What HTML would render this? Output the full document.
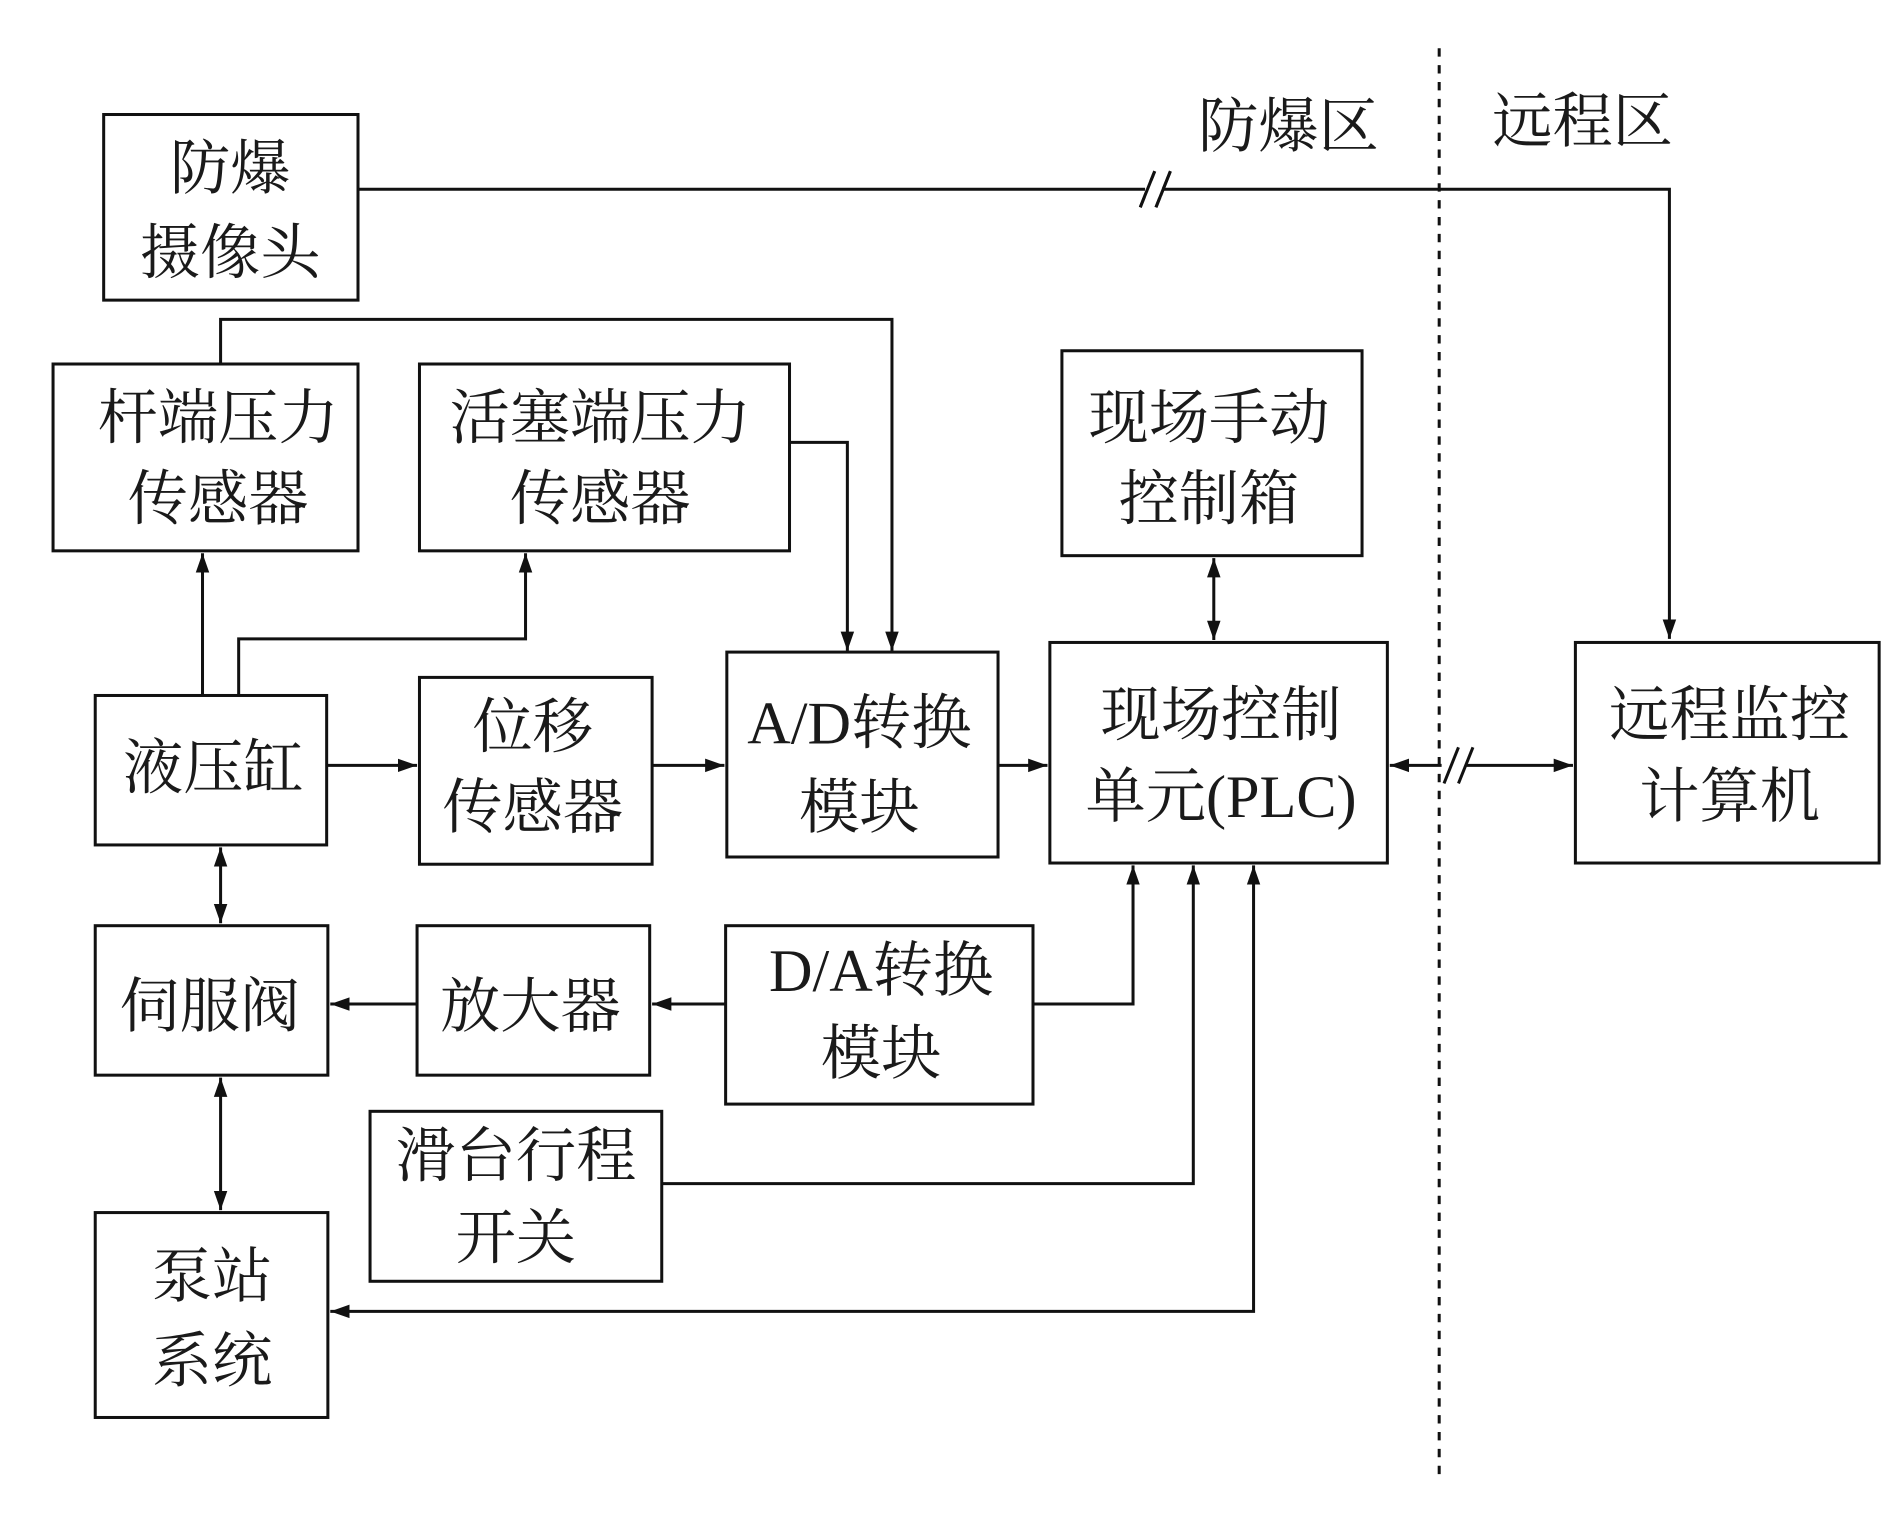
<!DOCTYPE html>
<html><head><meta charset="utf-8"><style>
html,body{margin:0;padding:0;background:#fff;}
svg{display:block;}
text{font-family:"Liberation Serif","Noto Serif CJK SC",serif;font-size:50px;fill:#1a1a1a;text-anchor:middle;}
</style></head><body>
<svg width="1890" height="1535" viewBox="0 0 1568 1273.5" xmlns="http://www.w3.org/2000/svg">
<defs>
<marker id="a" viewBox="0 0 10 10" refX="10" refY="5" markerWidth="16" markerHeight="16" markerUnits="userSpaceOnUse" orient="auto-start-reverse">
<path d="M0,1.5 L10,5 L0,8.5 z" fill="#111"/></marker>
</defs>
<g fill="none" stroke="#111" stroke-width="2.5">
<rect x="86" y="95" width="211" height="154"/>
<rect x="44" y="302" width="253" height="155"/>
<rect x="348" y="302" width="307" height="155"/>
<rect x="881" y="291" width="249" height="170"/>
<rect x="79" y="577" width="192" height="124"/>
<rect x="348" y="562" width="193" height="155"/>
<rect x="603" y="541" width="225" height="170"/>
<rect x="871" y="533" width="280" height="183"/>
<rect x="1307" y="533" width="252" height="183"/>
<rect x="79" y="768" width="193" height="124"/>
<rect x="346" y="768" width="193" height="124"/>
<rect x="602" y="768" width="255" height="148"/>
<rect x="307" y="922" width="242" height="141"/>
<rect x="79" y="1006" width="193" height="170"/>
</g>
<g fill="none" stroke="#111" stroke-width="2.5">
<polyline points="297,157 1385,157 1385,530" marker-end="url(#a)"/>
<polyline points="183,302 183,265 740,265 740,540" marker-end="url(#a)"/>
<polyline points="655,367 703,367 703,540" marker-end="url(#a)"/>
<line x1="168" y1="577" x2="168" y2="459" marker-end="url(#a)"/>
<polyline points="198,577 198,530 436,530 436,459" marker-end="url(#a)"/>
<line x1="271" y1="635" x2="346" y2="635" marker-end="url(#a)"/>
<line x1="541" y1="635" x2="601" y2="635" marker-end="url(#a)"/>
<line x1="828" y1="635" x2="869" y2="635" marker-end="url(#a)"/>
<line x1="1007" y1="463" x2="1007" y2="531" marker-start="url(#a)" marker-end="url(#a)"/>
<line x1="1153" y1="635" x2="1305" y2="635" marker-start="url(#a)" marker-end="url(#a)"/>
<line x1="183" y1="703" x2="183" y2="766" marker-start="url(#a)" marker-end="url(#a)"/>
<line x1="183" y1="894" x2="183" y2="1004" marker-start="url(#a)" marker-end="url(#a)"/>
<line x1="346" y1="833" x2="274" y2="833" marker-end="url(#a)"/>
<line x1="602" y1="833" x2="541" y2="833" marker-end="url(#a)"/>
<polyline points="857,833 940,833 940,718" marker-end="url(#a)"/>
<polyline points="549,982 990,982 990,718" marker-end="url(#a)"/>
<polyline points="1040,718 1040,1088 274,1088" marker-start="url(#a)" marker-end="url(#a)"/>
<line x1="1194" y1="40" x2="1194" y2="1230" stroke-dasharray="7,7" stroke-width="2.5"/>
</g>
<g stroke="#111" stroke-width="2.5">
<line x1="946" y1="172" x2="958" y2="142"/><line x1="959" y1="172" x2="971" y2="142"/>
<rect x="1196" y="620" width="20" height="30" fill="#fff" stroke="none"/>
<line x1="1198" y1="650" x2="1210" y2="620"/><line x1="1210" y1="650" x2="1222" y2="620"/>
</g>
<rect x="950" y="150" width="14" height="14" fill="#fff"/>
<line x1="946" y1="172" x2="958" y2="142" stroke="#111" stroke-width="2.5"/><line x1="959" y1="172" x2="971" y2="142" stroke="#111" stroke-width="2.5"/>
<text x="1069" y="122">防爆区</text>
<text x="1313" y="118">远程区</text>
<text x="191" y="157">防爆</text><text x="191" y="227">摄像头</text>
<text x="181" y="364">杆端压力</text><text x="181" y="431">传感器</text>
<text x="498" y="364">活塞端压力</text><text x="498" y="431">传感器</text>
<text x="1003" y="364">现场手动</text><text x="1003" y="431">控制箱</text>
<text x="177" y="654">液压缸</text>
<text x="442" y="620">位移</text><text x="442" y="687">传感器</text>
<text x="713" y="617">A/D转换</text><text x="713" y="687">模块</text>
<text x="1013" y="610">现场控制</text><text x="1013" y="678">单元(PLC)</text>
<text x="1435" y="610">远程监控</text><text x="1435" y="678">计算机</text>
<text x="174" y="852">伺服阀</text>
<text x="440" y="852">放大器</text>
<text x="731" y="822">D/A转换</text><text x="731" y="891">模块</text>
<text x="428" y="976">滑台行程</text><text x="428" y="1044">开关</text>
<text x="176" y="1076">泵站</text><text x="176" y="1146">系统</text>
</svg>
</body></html>
